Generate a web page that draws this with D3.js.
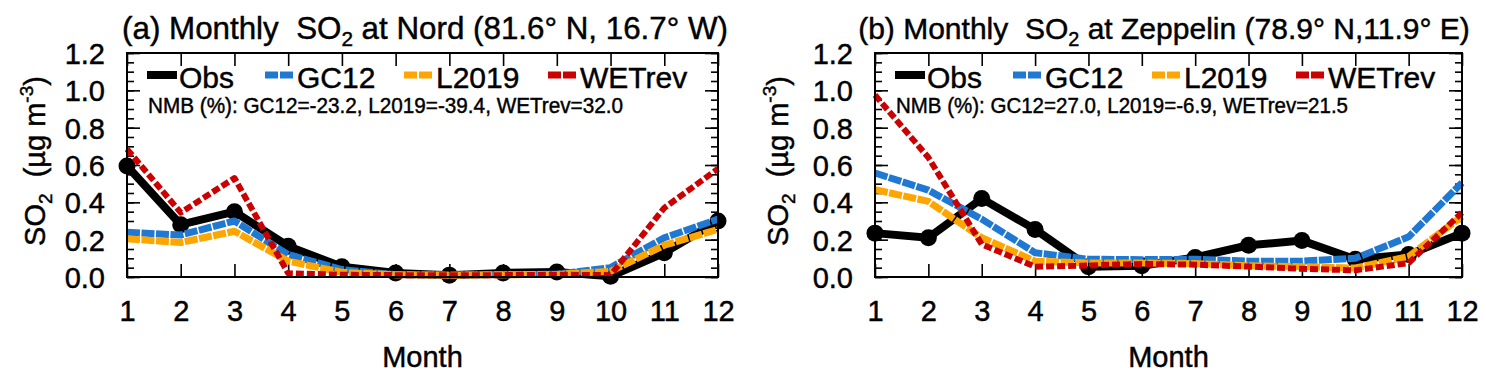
<!DOCTYPE html>
<html>
<head>
<meta charset="utf-8">
<script src="https://cdn.jsdelivr.net/npm/d3@7"></script>
<style>
  body { margin: 0; background: #fff; }
  text { font-family: "Liberation Sans", Arial, Helvetica, sans-serif; fill: #000; stroke: #000; stroke-width: 0.45px; white-space: pre; }
</style>
</head>
<body>
<svg id="chart"></svg>
<script>
// Dữ liệu: tháng và nồng độ SO2 (µg m-3)
const months = [1, 2, 3, 4, 5, 6, 7, 8, 9, 10, 11, 12];
const yTicks = [0, 0.2, 0.4, 0.6, 0.8, 1.0, 1.2];
const seriesNames = ["Obs", "GC12", "L2019", "WETrev"];

// (a) Nord
const nordObs    = [0.595, 0.28, 0.35, 0.165, 0.055, 0.022, 0.01, 0.022, 0.027, 0.004, 0.13, 0.30];
const nordGC12   = [0.24, 0.225, 0.30, 0.12, 0.04, 0.012, 0.01, 0.012, 0.015, 0.05, 0.21, 0.31];
const nordL2019  = [0.205, 0.185, 0.245, 0.085, 0.025, 0.012, 0.01, 0.012, 0.014, 0.03, 0.17, 0.255];
const nordWETrev = [0.685, 0.345, 0.53, 0.02, 0.012, 0.01, 0.01, 0.01, 0.012, 0.01, 0.37, 0.58];
const nordNMB = "NMB (%): GC12=-23.2, L2019=-39.4, WETrev=32.0";

// (b) Zeppelin
const zepObs    = [0.235, 0.21, 0.42, 0.255, 0.055, 0.06, 0.105, 0.17, 0.195, 0.095, 0.12, 0.235];
const zepGC12   = [0.557, 0.465, 0.31, 0.13, 0.095, 0.093, 0.095, 0.085, 0.085, 0.10, 0.215, 0.505];
const zepL2019  = [0.468, 0.405, 0.21, 0.085, 0.075, 0.075, 0.072, 0.06, 0.055, 0.048, 0.11, 0.325];
const zepWETrev = [0.975, 0.64, 0.175, 0.055, 0.062, 0.07, 0.066, 0.056, 0.044, 0.036, 0.075, 0.345];
const zepNMB = "NMB (%): GC12=27.0, L2019=-6.9, WETrev=21.5";

// Kích thước
const width = 1486;
const height = 381;

const svg = d3.select("#chart")
    .attr("width", width)
    .attr("height", height);

// Kiểu đường cho từng chuỗi
const styles = {
    Obs:    { color: "#000000", width: 8, dash: null },
    GC12:   { color: "#1f78d1", width: 7, dash: "13,1.5" },
    L2019:  { color: "#ffa500", width: 7, dash: "13,1.5" },
    WETrev: { color: "#cc0000", width: 6, dash: "8,3" }
};

function drawPanel(cfg) {
    const left = cfg.left, right = cfg.right, top = 53, bottom = 277;
    const g = svg.append("g");

    const x = d3.scaleLinear().domain([1, 12]).range([left, right]);
    const y = d3.scaleLinear().domain([0, 1.2]).range([bottom, top]);

    // Tiêu đề (co giãn cỡ chữ theo độ rộng mong muốn)
    const title = g.append("text")
        .attr("x", cfg.titleCenter)
        .attr("y", 39)
        .attr("text-anchor", "middle")
        .attr("font-size", 30);
    title.append("tspan").text(cfg.titleA);
    title.append("tspan").attr("font-size", "0.66em").attr("dy", "0.35em").text("2");
    title.append("tspan").attr("dy", "-0.23em").text(cfg.titleB);
    const tw = title.node().getComputedTextLength();
    title.attr("font-size", 30 * cfg.titleWidth / tw);

    // Trục: vạch chia hướng vào trong
    const minor = d3.range(0, 1.2001, 0.05);
    g.append("g").attr("transform", `translate(${left},0)`)
        .call(d3.axisRight(y).tickValues(minor).tickSize(7).tickFormat(""));
    g.append("g").attr("transform", `translate(${left},0)`)
        .call(d3.axisRight(y).tickValues(yTicks).tickSize(13).tickFormat(""));
    g.append("g").attr("transform", `translate(${right},0)`)
        .call(d3.axisLeft(y).tickValues(minor).tickSize(7).tickFormat(""));
    g.append("g").attr("transform", `translate(${right},0)`)
        .call(d3.axisLeft(y).tickValues(yTicks).tickSize(13).tickFormat(""));
    g.append("g").attr("transform", `translate(0,${bottom})`)
        .call(d3.axisTop(x).tickValues(months).tickSize(13).tickFormat(""));
    g.append("g").attr("transform", `translate(0,${top})`)
        .call(d3.axisBottom(x).tickValues(months).tickSize(13).tickFormat(""));
    g.selectAll(".domain").remove();
    g.selectAll(".tick line").attr("stroke", "#000").attr("stroke-width", 1.6);

    // Nhãn trục Y
    const yl = g.append("g").attr("transform", `translate(${left},0)`)
        .call(d3.axisLeft(y).tickValues(yTicks).tickSize(0).tickPadding(22).tickFormat(d3.format(".1f")));
    yl.select(".domain").remove();
    yl.selectAll("text").attr("font-size", 29).attr("font-family", null).attr("dy", "0.36em");

    // Nhãn trục X
    const xl = g.append("g").attr("transform", `translate(0,${bottom})`)
        .call(d3.axisBottom(x).tickValues(months).tickSize(0).tickPadding(23).tickFormat(d3.format("d")));
    xl.select(".domain").remove();
    xl.selectAll("text").attr("font-size", 29).attr("font-family", null).attr("dy", "0.71em");

    g.append("text")
        .attr("x", (left + right) / 2)
        .attr("y", 367)
        .attr("text-anchor", "middle")
        .attr("font-size", 29)
        .text("Month");

    // Nhãn trục Y (xoay)
    const ylab = g.append("text")
        .attr("transform", `translate(${cfg.ylabX},${(top + bottom) / 2 - 4}) rotate(-90)`)
        .attr("text-anchor", "middle")
        .attr("font-size", 29);
    ylab.append("tspan").text("SO");
    ylab.append("tspan").attr("font-size", 19).attr("dy", 7).text("2");
    ylab.append("tspan").attr("dy", -7).text("  (\u00b5g m");
    ylab.append("tspan").attr("font-size", 19).attr("dy", -12).text("-3");
    ylab.append("tspan").attr("dy", 12).text(")");

    // Đường dữ liệu
    const line = d3.line()
        .x((d, i) => x(months[i]))
        .y(d => y(d));

    cfg.series.forEach((vals, k) => {
        const s = styles[seriesNames[k]];
        g.append("path")
            .datum(vals)
            .attr("fill", "none")
            .attr("stroke", s.color)
            .attr("stroke-width", s.width)
            .attr("stroke-linejoin", "round")
            .attr("stroke-dasharray", s.dash)
            .attr("d", line);
        if (k === 0) {
            g.selectAll(null)
                .data(vals)
                .enter()
                .append("circle")
                .attr("cx", (d, i) => x(months[i]))
                .attr("cy", d => y(d))
                .attr("r", 8.5)
                .attr("fill", "#000");
        }
    });

    // Khung
    g.append("rect")
        .attr("x", left).attr("y", top)
        .attr("width", right - left).attr("height", bottom - top)
        .attr("fill", "none").attr("stroke", "#000").attr("stroke-width", 2);

    // Chú thích
    const legOffsets = [20, 138, 277, 421];
    seriesNames.forEach((name, k) => {
        const s = styles[name];
        const lx = left + legOffsets[k];
        if (k === 0) {
            g.append("line")
                .attr("x1", lx).attr("x2", lx + 30).attr("y1", 75).attr("y2", 75)
                .attr("stroke", s.color).attr("stroke-width", 8);
        } else {
            [0, 15].forEach(o => {
                g.append("line")
                    .attr("x1", lx + o).attr("x2", lx + o + 13).attr("y1", 75).attr("y2", 75)
                    .attr("stroke", s.color).attr("stroke-width", 7);
            });
        }
        g.append("text")
            .attr("x", lx + 32)
            .attr("y", 88)
            .attr("font-size", 30)
            .text(name);
    });

    g.append("text")
        .attr("x", left + 21)
        .attr("y", 113)
        .attr("font-size", 22)
        .attr("textLength", cfg.nmbLen)
        .attr("lengthAdjust", "spacingAndGlyphs")
        .text(cfg.nmb);
}

drawPanel({
    left: 127, right: 718, ylabX: 45, titleCenter: 425, titleWidth: 606,
    titleA: "(a) Monthly  SO", titleB: " at Nord (81.6\u00b0 N, 16.7\u00b0 W)",
    series: [nordObs, nordGC12, nordL2019, nordWETrev],
    nmb: nordNMB, nmbLen: 475
});

drawPanel({
    left: 875, right: 1462, ylabX: 788, titleCenter: 1164, titleWidth: 612,
    titleA: "(b) Monthly  SO", titleB: " at Zeppelin (78.9\u00b0 N,11.9\u00b0 E)",
    series: [zepObs, zepGC12, zepL2019, zepWETrev],
    nmb: zepNMB, nmbLen: 452
});
</script>
</body>
</html>
